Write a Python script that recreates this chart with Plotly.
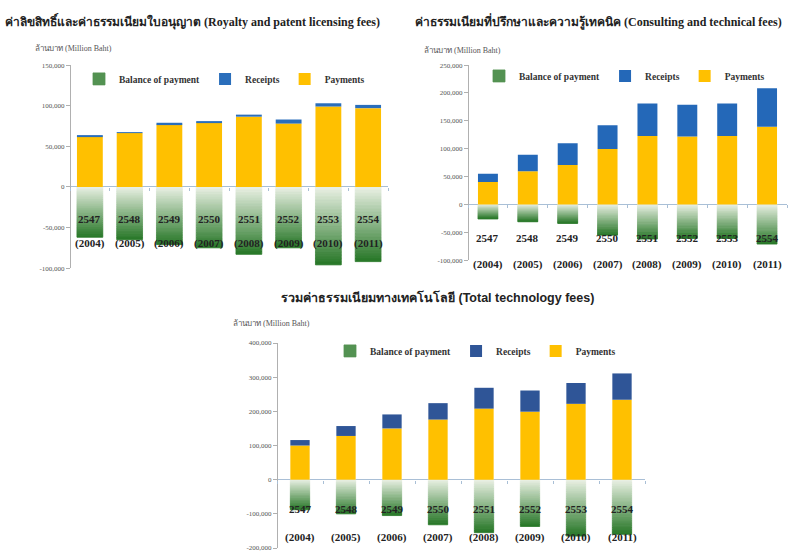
import plotly.graph_objects as go

W, H = 790, 553

# ---- data (million baht) ----
years_be = ["2547", "2548", "2549", "2550", "2551", "2552", "2553", "2554"]
years_ce = ["(2004)", "(2005)", "(2006)", "(2007)", "(2008)", "(2009)", "(2010)", "(2011)"]

royalty_payments = [62500, 66500, 77000, 79500, 86500, 78000, 99000, 97000]
royalty_receipts = [1000, 1000, 2000, 1500, 2500, 5000, 4000, 4000]
royalty_balance = [-62000, -65000, -71000, -75000, -83000, -75000, -96000, -92000]

consult_payments = [40500, 59500, 71000, 99500, 123000, 122000, 123000, 139500]
consult_receipts = [14500, 29500, 39000, 42500, 58000, 57000, 58000, 69000]
consult_balance = [-26000, -31000, -34000, -55000, -62000, -61000, -61000, -71000]

total_payments = [100000, 128000, 150000, 176000, 208000, 199000, 222000, 234000]
total_receipts = [16000, 29000, 41000, 48000, 61000, 62000, 61000, 77000]
total_balance = [-88000, -100000, -105000, -132000, -155000, -137000, -165000, -160000]

royalty_ticks = [150000, 100000, 50000, 0, -50000, -100000]
royalty_ticktext = ["150,000", "100,000", "50,000", "0", "-50,000", "-100,000"]
consult_ticks = [250000, 200000, 150000, 100000, 50000, 0, -50000, -100000]
consult_ticktext = ["250,000", "200,000", "150,000", "100,000", "50,000", "0", "-50,000", "-100,000"]
total_ticks = [400000, 300000, 200000, 100000, 0, -100000, -200000]
total_ticktext = ["400,000", "300,000", "200,000", "100,000", "0", "-100,000", "-200,000"]

titles = [
    "ค่าลิขสิทธิ์และค่าธรรมเนียมใบอนุญาต (Royalty and patent licensing fees)",
    "ค่าธรรมเนียมที่ปรึกษาและความรู้เทคนิค (Consulting and technical fees)",
    "รวมค่าธรรมเนียมทางเทคโนโลยี (Total technology fees)",
]
unit_label = "ล้านบาท (Million Baht)"
series_names = ["Balance of payment", "Receipts", "Payments"]

SERIF = "Liberation Serif, Times New Roman, serif"
SANS = "Liberation Sans, Arial, sans-serif"
PAY_COLOR = "#FFC000"
GRAD_TOP = (236, 242, 230)
GRAD_BOTTOM = (38, 118, 38)
N_SLICES = 24


def px_x(v):
    return v / W


def px_y(v):
    return 1 - v / H


def grad_color(t):
    c = [round(a + (b - a) * t) for a, b in zip(GRAD_TOP, GRAD_BOTTOM)]
    return "rgb(%d,%d,%d)" % tuple(c)


panels = [
    dict(pay=royalty_payments, rec=royalty_receipts, bal=royalty_balance,
         ticks=royalty_ticks, ticktext=royalty_ticktext, rng=[-100000, 150000],
         xdom=(70, 388), ydom=(62, 268), width=0.65, rec_color="#2A6EBB",
         title=titles[0], title_font=SERIF, title_size=12,
         title_pos=(192, 18), unit_pos=(33, 45),
         legend_pos=(79, 76), lab_be=218, lab_ce=243),
    dict(pay=consult_payments, rec=consult_receipts, bal=consult_balance,
         ticks=consult_ticks, ticktext=consult_ticktext, rng=[-100000, 250000],
         xdom=(468, 787), ydom=(62, 260), width=0.5, rec_color="#2468B8",
         title=titles[1], title_font=SERIF, title_size=12,
         title_pos=(598, 18), unit_pos=(422, 47),
         legend_pos=(479, 73), lab_be=237, lab_ce=264),
    dict(pay=total_payments, rec=total_receipts, bal=total_balance,
         ticks=total_ticks, ticktext=total_ticktext, rng=[-200000, 400000],
         xdom=(277, 645), ydom=(344, 552), width=0.42, rec_color="#2F5597",
         title=titles[2], title_font=SANS, title_size=12.5,
         title_pos=(438, 298), unit_pos=(231, 324),
         legend_pos=(330, 352), lab_be=512, lab_ce=541),
]

fig = go.Figure()
annotations = []
layout_axes = {}

for i, p in enumerate(panels, start=1):
    sfx = "" if i == 1 else str(i)
    xa, ya = "x" + sfx, "y" + sfx
    leg = "legend" + sfx
    n = len(years_be)
    xs = list(range(n))

    # negative balance drawn as stacked slices to give a vertical green gradient
    for k in range(N_SLICES):
        t = (k + 0.5) / N_SLICES
        col = grad_color(t)
        fig.add_trace(go.Bar(
            x=xs, y=[b / N_SLICES for b in p["bal"]], width=p["width"],
            marker=dict(color=col, line=dict(width=0.8, color=col)),
            name=series_names[0], legend=leg, legendgroup="bal%d" % i,
            legendrank=1, showlegend=(k == int(N_SLICES * 0.75)),
            xaxis=xa, yaxis=ya, hoverinfo="skip"))
    fig.add_trace(go.Bar(
        x=xs, y=p["pay"], width=p["width"], name=series_names[2],
        marker=dict(color=PAY_COLOR, line=dict(width=0)),
        legend=leg, legendrank=3, xaxis=xa, yaxis=ya))
    fig.add_trace(go.Bar(
        x=xs, y=p["rec"], width=p["width"], name=series_names[1],
        marker=dict(color=p["rec_color"], line=dict(width=0)),
        legend=leg, legendrank=2, xaxis=xa, yaxis=ya))

    # category axis sits on the zero level, with small ticks between categories
    y0, y1 = px_y(p["ydom"][1]), px_y(p["ydom"][0])
    lo, hi = p["rng"]
    zero_pos = y0 + (y1 - y0) * (0 - lo) / (hi - lo)
    layout_axes["xaxis" + sfx] = dict(
        domain=[px_x(p["xdom"][0]), px_x(p["xdom"][1])],
        anchor="free", position=zero_pos,
        range=[-0.5, n - 0.5], showticklabels=False,
        tickvals=[j + 0.5 for j in range(-1, n)],
        ticks="outside", ticklen=3, tickcolor="#a9bfd6",
        showgrid=False, zeroline=False, showline=False, fixedrange=True)
    layout_axes["yaxis" + sfx] = dict(
        domain=[y0, y1], anchor="free", position=px_x(p["xdom"][0]),
        range=p["rng"], tickvals=p["ticks"], ticktext=p["ticktext"],
        showgrid=False, zeroline=True, zerolinecolor="#a9bfd6", zerolinewidth=1.2,
        showline=True, linecolor="#b0b0b0", linewidth=1,
        ticks="outside", ticklen=4, tickcolor="#b0b0b0",
        tickfont=dict(family=SERIF, size=7, color="#555555"), fixedrange=True)

    layout_axes[leg] = dict(
        x=px_x(p["legend_pos"][0]), y=px_y(p["legend_pos"][1]),
        xanchor="left", yanchor="middle", orientation="h",
        traceorder="normal", bgcolor="rgba(0,0,0,0)",
        font=dict(family=SERIF, size=9.5, color="#333333", weight="bold"),
        itemwidth=30, tracegroupgap=0)

    annotations.append(dict(
        text="<b>%s</b>" % p["title"], xref="paper", yref="paper",
        x=px_x(p["title_pos"][0]), y=px_y(p["title_pos"][1]),
        xanchor="center", yanchor="middle", showarrow=False,
        font=dict(family=p["title_font"], size=p["title_size"], color="#222222")))
    annotations.append(dict(
        text=unit_label, xref="paper", yref="paper",
        x=px_x(p["unit_pos"][0]), y=px_y(p["unit_pos"][1]),
        xanchor="left", yanchor="middle", showarrow=False,
        font=dict(family=SERIF, size=8, color="#555555")))
    for j, (be, ce) in enumerate(zip(years_be, years_ce)):
        annotations.append(dict(
            text="<b>%s</b>" % be, xref=xa, yref="paper", x=j,
            y=px_y(p["lab_be"]), xanchor="center", yanchor="middle",
            showarrow=False, font=dict(family=SERIF, size=11, color="#222222")))
        annotations.append(dict(
            text="<b>%s</b>" % ce, xref=xa, yref="paper", x=j,
            y=px_y(p["lab_ce"]), xanchor="center", yanchor="middle",
            showarrow=False, font=dict(family=SERIF, size=11, color="#222222")))

fig.update_layout(
    width=W, height=H, margin=dict(l=0, r=0, t=0, b=0),
    paper_bgcolor="white", plot_bgcolor="white",
    barmode="relative", annotations=annotations, **layout_axes)

fig.write_html("out.html", config={"displayModeBar": False})
